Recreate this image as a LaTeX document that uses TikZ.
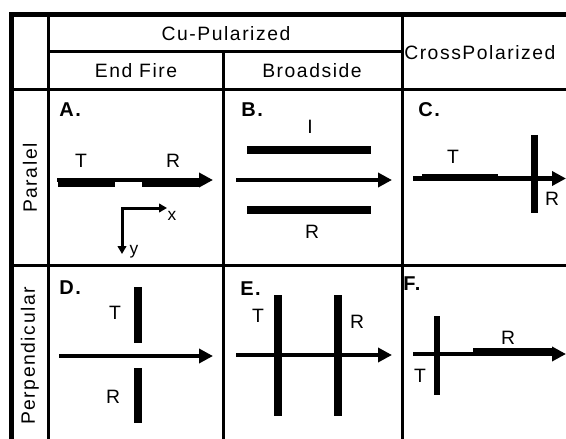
\documentclass[tikz,border=0pt]{standalone}
\usepackage{fontspec}
\setmainfont{Liberation Sans}[LetterSpace=8]
\usetikzlibrary{arrows.meta,calc}
\begin{document}
\begin{tikzpicture}[x=0.75pt,y=-0.75pt,
  gridline/.style={line width=2.25pt},
  borderline/.style={line width=3.75pt},
  widebar/.style={line width=6.5pt},
  narrowbar/.style={line width=5pt},
  mainarrow/.style={line width=3pt,-{Triangle[length=10.5pt,width=10.5pt]}},
  axisarrow/.style={line width=2.25pt,-{Triangle[length=6pt,width=6.5pt]}},
  headtext/.style={inner sep=0pt,font=\fontsize{14.5pt}{16pt}\selectfont},
  celllabel/.style={inner sep=0pt,anchor=west,font=\fontsize{15pt}{17pt}\selectfont\bfseries},
  dipolelabel/.style={inner sep=0pt,font=\fontsize{14.5pt}{16pt}\selectfont},
  axislabel/.style={inner sep=0pt,font=\fontsize{13pt}{15pt}\selectfont}
]
\useasboundingbox (0,0) rectangle (566,438);
\begin{scope}
\clip (0,0) rectangle (566,438);
% grid
\draw[gridline] (48,14) -- (48,440);
\draw[gridline] (223,52) -- (223,440);
\draw[gridline] (402,14) -- (402,440);
\draw[gridline] (48,52) -- (402,52);
\draw[gridline] (11,90) -- (570,90);
\draw[gridline] (11,265) -- (570,265);
\draw[borderline] (9.5,14.5) -- (570,14.5);
\draw[borderline] (11.5,12.5) -- (11.5,440);
\end{scope}
% headers
\node[headtext] (copol) at (226,34) {Cu-Pularized};
\node[headtext] (endfire) at (136,71) {End Fire};
\node[headtext] (broad) at (312,71) {Broadside};
\node[headtext,anchor=west] (cross) at (404,53) {CrossPolarized};
\node[headtext,rotate=90] (paralel) at (30,178) {Paralel};
\node[headtext,rotate=90] (perp) at (30,356) {Perpendicular};
% cell labels
\node[celllabel] (la) at (59,109.5) {A.};
\node[celllabel] (lb) at (241,109.5) {B.};
\node[celllabel] (lc) at (418,109.5) {C.};
\node[celllabel] (ld) at (59,288) {D.};
\node[celllabel] (le) at (240,289) {E.};
\node[celllabel] (lf) at (403,284) {F.};
% ---- A
\coordinate (aS) at (57,180); \coordinate (aE) at (213,180);
\draw[widebar] (58,182.5) -- (115,182.5);
\draw[widebar] (142,182.5) -- (200,182.5);
\draw[mainarrow] (aS) -- (aE);
\node[dipolelabel] (aT) at (81,160.5) {T};
\node[dipolelabel] (aR) at (173,160.5) {R};
\coordinate (ax0) at (122,208); \coordinate (axX) at (167,208); \coordinate (axY) at (122,254);
\draw[axisarrow] (ax0) -- (axX);
\draw[axisarrow] ($(ax0)+(0,-1)$) -- (axY);
\node[axislabel] (xl) at (172,216) {x};
\node[axislabel] (yl) at (134,252) {y};
% ---- B
\coordinate (bS) at (236,180); \coordinate (bE) at (392,180);
\draw[widebar] (247,150) -- (371,150);
\draw[widebar] (247,210) -- (371,210);
\draw[mainarrow] (bS) -- (bE);
\node[dipolelabel] (bI) at (310,127) {I};
\node[dipolelabel] (bR) at (312,232) {R};
% ---- C
\coordinate (cS) at (413,178.5); \coordinate (cE) at (566,178.5);
\draw[narrowbar] (422,177) -- (498,177);
\draw[narrowbar] (534.5,135) -- (534.5,213);
\draw[mainarrow] (cS) -- (cE);
\node[dipolelabel] (cT) at (453,157) {T};
\node[dipolelabel] (cR) at (552,199) {R};
% ---- D
\coordinate (dS) at (59,356); \coordinate (dE) at (213,356);
\draw[widebar] (138,287) -- (138,343);
\draw[widebar] (138,368) -- (138,423);
\draw[mainarrow] (dS) -- (dE);
\node[dipolelabel] (dT) at (115,313) {T};
\node[dipolelabel] (dR) at (113,397) {R};
% ---- E
\coordinate (eS) at (236,355); \coordinate (eE) at (392,355);
\draw[widebar] (278,295) -- (278,416);
\draw[widebar] (338,295) -- (338,416);
\draw[mainarrow] (eS) -- (eE);
\node[dipolelabel] (eT) at (258,316) {T};
\node[dipolelabel] (eR) at (357,322) {R};
% ---- F
\coordinate (fS) at (413,354); \coordinate (fE) at (566,354);
\draw[narrowbar] (437,316) -- (437,395);
\draw[narrowbar] (473,351) -- (552,351);
\draw[mainarrow] (fS) -- (fE);
\node[dipolelabel] (fT) at (420,376) {T};
\node[dipolelabel] (fR) at (508,338) {R};
\end{tikzpicture}
\end{document}
